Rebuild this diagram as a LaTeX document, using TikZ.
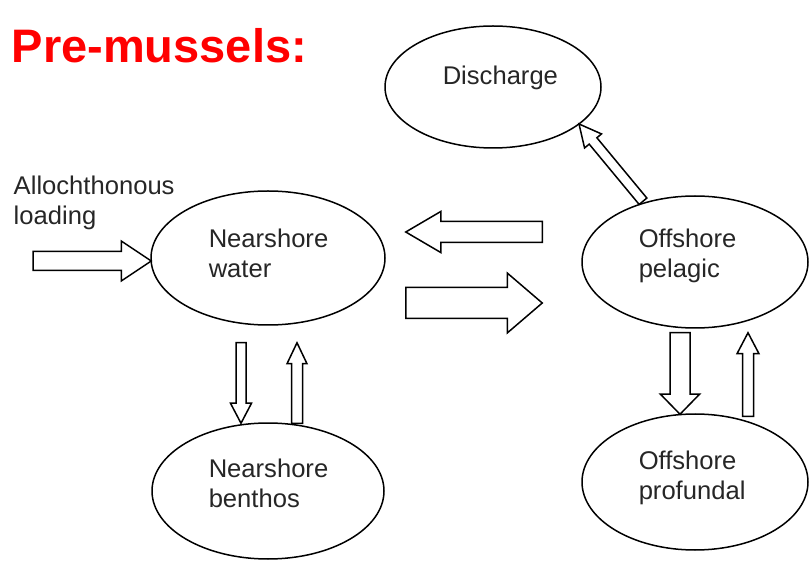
\documentclass[tikz,border=0pt]{standalone}
\usepackage{fontspec}
\setmainfont{Liberation Sans}
\usetikzlibrary{calc,shapes.geometric}

% hollow block arrow: tail, tip, half shaft, half head, head length
\newcommand{\blockarrow}[5]{%
  \coordinate (hb) at ($(#2)!#5!(#1)$);
  \draw[flow] ($(#1)!#3!90:(#2)$) -- ($(hb)!#3!270:(#1)$) -- ($(hb)!#4!270:(#1)$)
    -- (#2) -- ($(hb)!#4!90:(#1)$) -- ($(hb)!#3!90:(#1)$) -- ($(#1)!#3!270:(#2)$) -- cycle;}

\begin{document}
\begin{tikzpicture}[x = 0.5pt, y = -0.5pt, line width = 0.75pt,
                        pool/.style = {ellipse, draw, inner sep = 0pt},
                        txt/.style = {anchor = north west, inner sep = 0pt, align = left, text = black!85,
                                      font = \fontsize{12.8}{15}\selectfont},
                        flow/.style = {draw, fill = white, line join = miter}]
      \useasboundingbox (0, 0) rectangle (809, 561);

      \node [anchor = north west, inner sep = 0pt, text = red,
             font = \fontsize{23.5}{28}\selectfont\bfseries] (title) at (11, 28) {Pre-mussels:};

      % pools
      \node [pool, minimum width = 108pt, minimum height = 61pt] (ds) at (493, 87){};
      \node [pool, minimum width = 117pt, minimum height = 67pt] (nw) at (268, 258){};
      \node [pool, minimum width = 113pt, minimum height = 66pt] (op) at (695, 262){};
      \node [pool, minimum width = 116pt, minimum height = 68pt] (nb) at (268, 491){};
      \node [pool, minimum width = 113pt, minimum height = 68pt] (np) at (695, 482){};

      \node [txt] (dsT) at (442, 65) {Discharge};
      \node [txt] (nwT) at (208, 228) {Nearshore\\water};
      \node [txt] (opT) at (638, 228) {Offshore\\pelagic};
      \node [txt] (nbT) at (208, 458) {Nearshore\\benthos};
      \node [txt] (npT) at (638, 450) {Offshore\\profundal};
      \node [txt] (inT) at (13, 175) {Allochthonous\\loading};

      % arrow ends
      \coordinate (in0) at (33, 261);
      \coordinate (in1) at ($(nw.west) + (1, 3)$);
      \coordinate (lf0) at ($(op.west) + (-39, -30)$);
      \coordinate (lf1) at ($(nw.east) + (20, -26)$);
      \coordinate (rt0) at ($(nw.east) + (20, 45)$);
      \coordinate (rt1) at ($(op.west) + (-39, 41)$);
      \coordinate (dc0) at ($(op.north) + (-52, 6)$);
      \coordinate (dc1) at ($(ds.center) + (86, 37)$);
      \coordinate (nd0) at ($(nw.south) + (-27, 17)$);
      \coordinate (nd1) at ($(nb.north) + (-27, 1)$);
      \coordinate (nu0) at ($(nb.north) + (29, 1)$);
      \coordinate (nu1) at ($(nw.south) + (29, 17)$);
      \coordinate (od0) at ($(op.south) + (-15, 4)$);
      \coordinate (od1) at ($(np.north) + (-15, 1)$);
      \coordinate (ou0) at ($(np.north) + (53, 3)$);
      \coordinate (ou1) at ($(op.south) + (53, 4)$);

      \blockarrow{in0}{in1}{4.75pt}{10pt}{15pt}
      \blockarrow{lf0}{lf1}{5.25pt}{10.25pt}{17.5pt}
      \blockarrow{rt0}{rt1}{7.75pt}{15pt}{17.5pt}
      \blockarrow{dc0}{dc1}{2.5pt}{5.5pt}{11pt}
      \blockarrow{nd0}{nd1}{2.5pt}{5.25pt}{10pt}
      \blockarrow{nu0}{nu1}{2.75pt}{5pt}{10.5pt}
      \blockarrow{od0}{od1}{5pt}{9.75pt}{10pt}
      \blockarrow{ou0}{ou1}{2.75pt}{5.5pt}{10.5pt}
\end{tikzpicture}
\end{document}
